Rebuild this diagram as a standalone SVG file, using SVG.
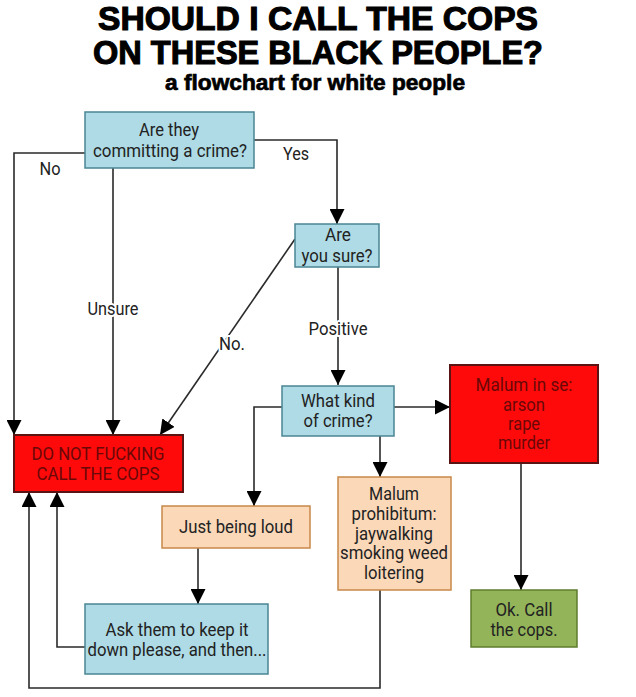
<svg xmlns="http://www.w3.org/2000/svg" width="636" height="697" viewBox="0 0 636 697">
<defs>
<marker id="ah" markerUnits="userSpaceOnUse" markerWidth="15" markerHeight="15" refX="15" refY="7.5" orient="auto">
<path d="M0,0 L15,7.5 L0,15 Z" fill="#000"/>
</marker>
<style>
.t{font-family:Roboto,"Liberation Sans",sans-serif;font-size:18px;fill:#222;text-anchor:middle}
.rt{font-family:Roboto,"Liberation Sans",sans-serif;font-size:18px;fill:#6a0808;text-anchor:middle}
.lbl{font-family:Roboto,"Liberation Sans",sans-serif;font-size:18px;fill:#222;text-anchor:middle;stroke:#fff;stroke-width:4;paint-order:stroke;stroke-linejoin:round}
.title{font-family:"Liberation Sans",Arial,sans-serif;font-weight:bold;font-size:33px;fill:#000;text-anchor:middle;stroke:#000;stroke-width:1.1}
.sub{font-family:"Liberation Sans",Arial,sans-serif;font-weight:bold;font-size:22px;fill:#000;text-anchor:middle;stroke:#000;stroke-width:0.7}
.blue{fill:#aedbe5;stroke:#4a8593;stroke-width:1.5}
.peach{fill:#fad8b8;stroke:#c8884a;stroke-width:1.5}
.red{fill:#ff0a0a;stroke:#5a1414;stroke-width:2}
.green{fill:#94b45a;stroke:#5e7d2c;stroke-width:1.5}
.c{fill:none;stroke:#2a2a2a;stroke-width:1.6}
</style>
</defs>
<rect width="636" height="697" fill="#fff"/>
<g id="title">
<text class="title" x="318" y="30" textLength="440" lengthAdjust="spacingAndGlyphs">SHOULD I CALL THE COPS</text>
<text class="title" x="318" y="63.5" textLength="450" lengthAdjust="spacingAndGlyphs">ON THESE BLACK PEOPLE?</text>
<text class="sub" x="315" y="89.5" textLength="300" lengthAdjust="spacingAndGlyphs">a flowchart for white people</text>
</g>
<g id="connectors">
<polyline class="c" points="85,153 14,153 14,435" marker-end="url(#ah)"/>
<line class="c" x1="113" y1="168" x2="113" y2="435" marker-end="url(#ah)"/>
<polyline class="c" points="254,140 337,140 337,224" marker-end="url(#ah)"/>
<line class="c" x1="295" y1="239" x2="160" y2="435" marker-end="url(#ah)"/>
<line class="c" x1="338" y1="267" x2="338" y2="385" marker-end="url(#ah)"/>
<line class="c" x1="394" y1="407" x2="450" y2="407" marker-end="url(#ah)"/>
<polyline class="c" points="282,407 254,407 254,506" marker-end="url(#ah)"/>
<line class="c" x1="380" y1="436" x2="380" y2="477" marker-end="url(#ah)"/>
<line class="c" x1="521" y1="463" x2="521" y2="590" marker-end="url(#ah)"/>
<line class="c" x1="198" y1="548" x2="198" y2="604" marker-end="url(#ah)"/>
<polyline class="c" points="85,647 57,647 57,492" marker-end="url(#ah)"/>
<polyline class="c" points="380,590 380,688 29,688 29,492" marker-end="url(#ah)"/>
<text class="lbl" x="50" y="175" textLength="21" lengthAdjust="spacingAndGlyphs">No</text>
<text class="lbl" x="296" y="160" textLength="26" lengthAdjust="spacingAndGlyphs">Yes</text>
<text class="lbl" x="113" y="315" textLength="51" lengthAdjust="spacingAndGlyphs">Unsure</text>
<text class="lbl" x="232" y="350" textLength="26" lengthAdjust="spacingAndGlyphs">No.</text>
<text class="lbl" x="338" y="335" textLength="59" lengthAdjust="spacingAndGlyphs">Positive</text>
</g>
<g id="q1">
<rect class="blue" x="85" y="112" width="169" height="56"/>
<text class="t" x="169" y="136" textLength="60" lengthAdjust="spacingAndGlyphs">Are they</text>
<text class="t" x="170" y="157" textLength="154" lengthAdjust="spacingAndGlyphs">committing a crime?</text>
</g>
<g id="q2">
<rect class="blue" x="295" y="224" width="84" height="43"/>
<text class="t" x="338" y="241" textLength="26" lengthAdjust="spacingAndGlyphs">Are</text>
<text class="t" x="337" y="262" textLength="71" lengthAdjust="spacingAndGlyphs">you sure?</text>
</g>
<g id="q3">
<rect class="blue" x="282" y="386" width="112" height="50"/>
<text class="t" x="338" y="407" textLength="74" lengthAdjust="spacingAndGlyphs">What kind</text>
<text class="t" x="338" y="427" textLength="69" lengthAdjust="spacingAndGlyphs">of crime?</text>
</g>
<g id="dont">
<rect class="red" x="14" y="435" width="169" height="57"/>
<text class="rt" x="98" y="460" textLength="133" lengthAdjust="spacingAndGlyphs">DO NOT FUCKING</text>
<text class="rt" x="98" y="480" textLength="123" lengthAdjust="spacingAndGlyphs">CALL THE COPS</text>
</g>
<g id="inse">
<rect class="red" x="450" y="365" width="148" height="98"/>
<text class="rt" x="524" y="391" textLength="97" lengthAdjust="spacingAndGlyphs">Malum in se:</text>
<text class="rt" x="524" y="411" textLength="42" lengthAdjust="spacingAndGlyphs">arson</text>
<text class="rt" x="524" y="430" textLength="32" lengthAdjust="spacingAndGlyphs">rape</text>
<text class="rt" x="524" y="449" textLength="52" lengthAdjust="spacingAndGlyphs">murder</text>
</g>
<g id="loud">
<rect class="peach" x="162" y="506" width="148" height="42"/>
<text class="t" x="236" y="533" textLength="114" lengthAdjust="spacingAndGlyphs">Just being loud</text>
</g>
<g id="prohib">
<rect class="peach" x="338" y="477" width="113" height="113"/>
<text class="t" x="394" y="500" textLength="50" lengthAdjust="spacingAndGlyphs">Malum</text>
<text class="t" x="394" y="520" textLength="85" lengthAdjust="spacingAndGlyphs">prohibitum:</text>
<text class="t" x="394" y="540" textLength="78" lengthAdjust="spacingAndGlyphs">jaywalking</text>
<text class="t" x="394" y="559" textLength="108" lengthAdjust="spacingAndGlyphs">smoking weed</text>
<text class="t" x="394" y="579" textLength="60" lengthAdjust="spacingAndGlyphs">loitering</text>
</g>
<g id="ask">
<rect class="blue" x="85" y="604" width="183" height="70"/>
<text class="t" x="177" y="636" textLength="143" lengthAdjust="spacingAndGlyphs">Ask them to keep it</text>
<text class="t" x="177" y="656" textLength="179" lengthAdjust="spacingAndGlyphs">down please, and then...</text>
</g>
<g id="ok">
<rect class="green" x="471" y="590" width="106" height="57"/>
<text class="t" x="524" y="616" textLength="57" lengthAdjust="spacingAndGlyphs">Ok. Call</text>
<text class="t" x="524" y="636" textLength="67" lengthAdjust="spacingAndGlyphs">the cops.</text>
</g>
</svg>
